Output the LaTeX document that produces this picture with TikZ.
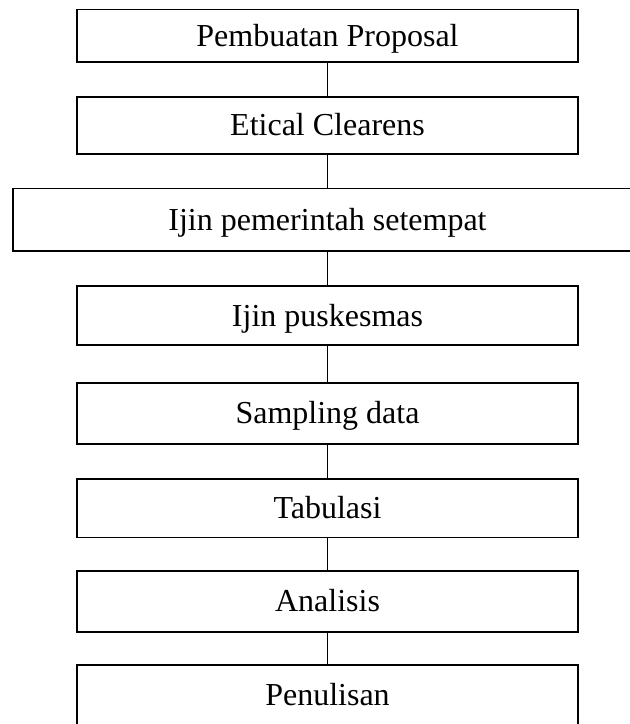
\documentclass[tikz,border=0pt]{standalone}
\usepackage{fontspec}
\setmainfont{Liberation Serif}
\begin{document}
\begin{tikzpicture}[x=1pt,y=-1pt,
  label text/.style={font=\fontsize{32}{38}\selectfont, text height=21pt, text depth=0pt},
  stage/.style={draw=black, line width=1.6pt, fill=white, inner sep=0pt,
    label text, minimum width=501pt},
  link/.style={draw=black, line width=1.1pt}]
  % page frame (drawing beyond it is cut off)
  \clip (0,0) rectangle (630,724);
  \fill[white] (0,0) rectangle (630,724);

  \node[stage, minimum height=52.4pt] (b1) at (327.5,35.5)  {Pembuatan Proposal};
  \node[stage, minimum height=57pt]   (b2) at (327.5,125.2) {Etical Clearens};
  \node[stage, minimum height=62.7pt, minimum width=632pt] (b3) at (329,219.7) {};
  \node[label text, inner sep=0pt] (t3) at (327.5,219.7) {Ijin pemerintah setempat};
  \node[stage, minimum height=59pt]   (b4) at (327.5,315.5) {Ijin puskesmas};
  \node[stage, minimum height=61.3pt] (b5) at (327.5,413.4) {Sampling data};
  \node[stage, minimum height=58.3pt] (b6) at (327.5,508.2) {Tabulasi};
  \node[stage, minimum height=61.3pt] (b7) at (327.5,601.4) {Analisis};
  \node[stage, minimum height=61pt]   (b8) at (327.5,695.2) {Penulisan};

  \draw[link] (b1.south) -- (b2.north);
  \draw[link] (b2.south) -- (b2.south |- b3.north);
  \draw[link] (b4.north |- b3.south) -- (b4.north);
  \draw[link] (b4.south) -- (b5.north);
  \draw[link] (b5.south) -- (b6.north);
  \draw[link] (b6.south) -- (b7.north);
  \draw[link] (b7.south) -- (b8.north);
\end{tikzpicture}
\end{document}
